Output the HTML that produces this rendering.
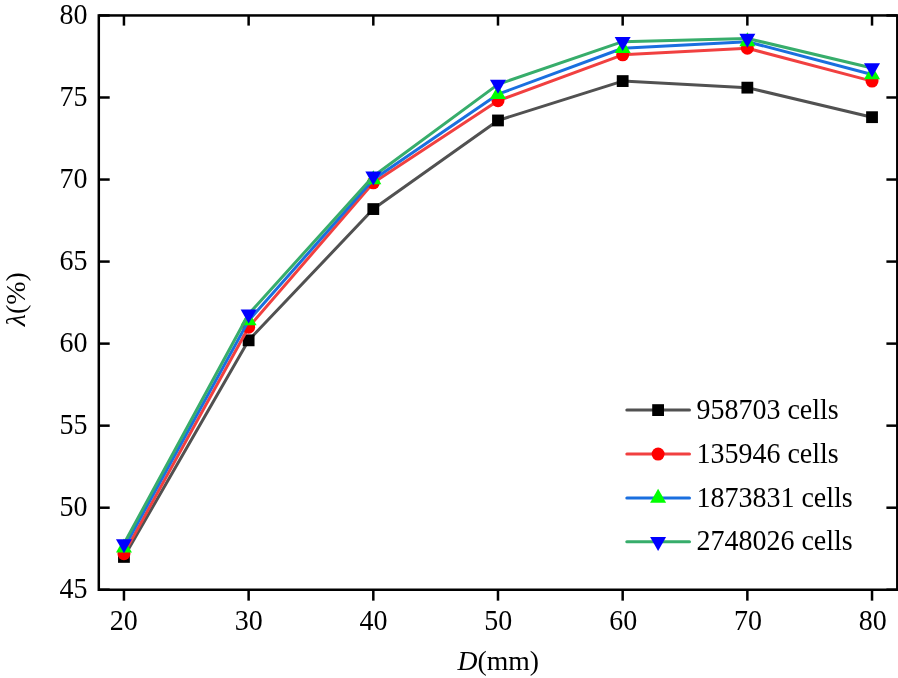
<!DOCTYPE html>
<html lang="en"><head><meta charset="utf-8"><title>Grid independence</title>
<style>html,body{margin:0;padding:0;background:#fff}body{width:898px;height:678px;overflow:hidden}svg{display:block}text{font-family:"Liberation Serif","Times New Roman",serif;font-size:28px;fill:#000}</style></head><body>
<svg width="898" height="678" viewBox="0 0 898 678">
<rect width="898" height="678" fill="#fff"/>
<polyline points="123.95,556.93 248.63,340.34 373.31,209.07 497.99,120.46 622.67,81.08 747.35,87.65 872.03,117.18" fill="none" stroke="#515151" stroke-width="3.0" stroke-linejoin="round" stroke-linecap="round"/>
<rect x="118.05" y="551.03" width="11.8" height="11.8" fill="#000000"/>
<rect x="242.73" y="334.44" width="11.8" height="11.8" fill="#000000"/>
<rect x="367.41" y="203.17" width="11.8" height="11.8" fill="#000000"/>
<rect x="492.09" y="114.56" width="11.8" height="11.8" fill="#000000"/>
<rect x="616.77" y="75.18" width="11.8" height="11.8" fill="#000000"/>
<rect x="741.45" y="81.75" width="11.8" height="11.8" fill="#000000"/>
<rect x="866.13" y="111.28" width="11.8" height="11.8" fill="#000000"/>
<polyline points="123.95,553.65 248.63,327.21 373.31,182.82 497.99,100.77 622.67,54.83 747.35,48.27 872.03,81.08" fill="none" stroke="#F14040" stroke-width="3.0" stroke-linejoin="round" stroke-linecap="round"/>
<circle cx="123.95" cy="553.65" r="6.5" fill="#FF0000"/>
<circle cx="248.63" cy="327.21" r="6.5" fill="#FF0000"/>
<circle cx="373.31" cy="182.82" r="6.5" fill="#FF0000"/>
<circle cx="497.99" cy="100.77" r="6.5" fill="#FF0000"/>
<circle cx="622.67" cy="54.83" r="6.5" fill="#FF0000"/>
<circle cx="747.35" cy="48.27" r="6.5" fill="#FF0000"/>
<circle cx="872.03" cy="81.08" r="6.5" fill="#FF0000"/>
<polyline points="123.95,547.91 248.63,320.65 373.31,179.54 497.99,94.21 622.67,48.27 747.35,41.70 872.03,74.52" fill="none" stroke="#1A6FDF" stroke-width="3.0" stroke-linejoin="round" stroke-linecap="round"/>
<polygon points="115.95,552.57 131.95,552.57 123.95,538.57" fill="#00FF00"/>
<polygon points="240.63,325.32 256.63,325.32 248.63,311.32" fill="#00FF00"/>
<polygon points="365.31,184.20 381.31,184.20 373.31,170.20" fill="#00FF00"/>
<polygon points="489.99,98.88 505.99,98.88 497.99,84.88" fill="#00FF00"/>
<polygon points="614.67,52.93 630.67,52.93 622.67,38.93" fill="#00FF00"/>
<polygon points="739.35,46.37 755.35,46.37 747.35,32.37" fill="#00FF00"/>
<polygon points="864.03,79.19 880.03,79.19 872.03,65.19" fill="#00FF00"/>
<polyline points="123.95,543.81 248.63,314.09 373.31,176.25 497.99,84.37 622.67,41.70 747.35,38.42 872.03,67.96" fill="none" stroke="#37AD6B" stroke-width="3.0" stroke-linejoin="round" stroke-linecap="round"/>
<polygon points="115.95,539.14 131.95,539.14 123.95,553.14" fill="#0000FF"/>
<polygon points="240.63,309.42 256.63,309.42 248.63,323.42" fill="#0000FF"/>
<polygon points="365.31,171.59 381.31,171.59 373.31,185.59" fill="#0000FF"/>
<polygon points="489.99,79.70 505.99,79.70 497.99,93.70" fill="#0000FF"/>
<polygon points="614.67,37.04 630.67,37.04 622.67,51.04" fill="#0000FF"/>
<polygon points="739.35,33.76 755.35,33.76 747.35,47.76" fill="#0000FF"/>
<polygon points="864.03,63.29 880.03,63.29 872.03,77.29" fill="#0000FF"/>
<g stroke="#000" stroke-width="2.5" fill="none" stroke-linecap="butt" stroke-linejoin="miter">
<rect x="98.8" y="15.45" width="798.50" height="574.30"/>
<line x1="123.95" y1="589.75" x2="123.95" y2="600.65"/>
<line x1="123.95" y1="15.45" x2="123.95" y2="25.60"/>
<line x1="248.63" y1="589.75" x2="248.63" y2="600.65"/>
<line x1="248.63" y1="15.45" x2="248.63" y2="25.60"/>
<line x1="373.31" y1="589.75" x2="373.31" y2="600.65"/>
<line x1="373.31" y1="15.45" x2="373.31" y2="25.60"/>
<line x1="497.99" y1="589.75" x2="497.99" y2="600.65"/>
<line x1="497.99" y1="15.45" x2="497.99" y2="25.60"/>
<line x1="622.67" y1="589.75" x2="622.67" y2="600.65"/>
<line x1="622.67" y1="15.45" x2="622.67" y2="25.60"/>
<line x1="747.35" y1="589.75" x2="747.35" y2="600.65"/>
<line x1="747.35" y1="15.45" x2="747.35" y2="25.60"/>
<line x1="872.03" y1="589.75" x2="872.03" y2="600.65"/>
<line x1="872.03" y1="15.45" x2="872.03" y2="25.60"/>
<line x1="98.8" y1="589.75" x2="109.70" y2="589.75"/>
<line x1="897.3" y1="589.75" x2="886.40" y2="589.75"/>
<line x1="98.8" y1="507.71" x2="109.70" y2="507.71"/>
<line x1="897.3" y1="507.71" x2="886.40" y2="507.71"/>
<line x1="98.8" y1="425.66" x2="109.70" y2="425.66"/>
<line x1="897.3" y1="425.66" x2="886.40" y2="425.66"/>
<line x1="98.8" y1="343.62" x2="109.70" y2="343.62"/>
<line x1="897.3" y1="343.62" x2="886.40" y2="343.62"/>
<line x1="98.8" y1="261.58" x2="109.70" y2="261.58"/>
<line x1="897.3" y1="261.58" x2="886.40" y2="261.58"/>
<line x1="98.8" y1="179.54" x2="109.70" y2="179.54"/>
<line x1="897.3" y1="179.54" x2="886.40" y2="179.54"/>
<line x1="98.8" y1="97.49" x2="109.70" y2="97.49"/>
<line x1="897.3" y1="97.49" x2="886.40" y2="97.49"/>
<line x1="98.8" y1="15.45" x2="109.70" y2="15.45"/>
<line x1="897.3" y1="15.45" x2="886.40" y2="15.45"/>
</g>
<text transform="translate(123.85,629.50) scale(1,1.05)" text-anchor="middle">20</text>
<text transform="translate(248.68,629.50) scale(1,1.05)" text-anchor="middle">30</text>
<text transform="translate(373.51,629.50) scale(1,1.05)" text-anchor="middle">40</text>
<text transform="translate(498.34,629.50) scale(1,1.05)" text-anchor="middle">50</text>
<text transform="translate(623.17,629.50) scale(1,1.05)" text-anchor="middle">60</text>
<text transform="translate(748.00,629.50) scale(1,1.05)" text-anchor="middle">70</text>
<text transform="translate(872.83,629.50) scale(1,1.05)" text-anchor="middle">80</text>
<text transform="translate(87.40,597.95) scale(1,1.05)" text-anchor="end">45</text>
<text transform="translate(87.40,515.91) scale(1,1.05)" text-anchor="end">50</text>
<text transform="translate(87.40,433.86) scale(1,1.05)" text-anchor="end">55</text>
<text transform="translate(87.40,351.82) scale(1,1.05)" text-anchor="end">60</text>
<text transform="translate(87.40,269.78) scale(1,1.05)" text-anchor="end">65</text>
<text transform="translate(87.40,187.74) scale(1,1.05)" text-anchor="end">70</text>
<text transform="translate(87.40,105.69) scale(1,1.05)" text-anchor="end">75</text>
<text transform="translate(87.40,23.65) scale(1,1.05)" text-anchor="end">80</text>
<text transform="translate(498.20,669.70)" text-anchor="middle" style="font-size:27.7px"><tspan font-style="italic">D</tspan>(mm)</text>
<text transform="translate(24.80,299.20) rotate(-90)" text-anchor="middle"><tspan font-style="italic">λ</tspan>(%)</text>
<line x1="626.8" y1="410.1" x2="689.5" y2="410.1" stroke="#515151" stroke-width="3.0" stroke-linecap="round"/>
<rect x="652.20" y="404.20" width="11.8" height="11.8" fill="#000000"/>
<text transform="translate(696.50,419.30) scale(1,1.05)" text-anchor="start">958703 cells</text>
<line x1="626.8" y1="454.1" x2="689.5" y2="454.1" stroke="#F14040" stroke-width="3.0" stroke-linecap="round"/>
<circle cx="658.10" cy="454.10" r="6.5" fill="#FF0000"/>
<text transform="translate(696.50,463.00) scale(1,1.05)" text-anchor="start">135946 cells</text>
<line x1="626.8" y1="498.1" x2="689.5" y2="498.1" stroke="#1A6FDF" stroke-width="3.0" stroke-linecap="round"/>
<polygon points="650.10,502.77 666.10,502.77 658.10,488.77" fill="#00FF00"/>
<text transform="translate(696.50,506.80) scale(1,1.05)" text-anchor="start">1873831 cells</text>
<line x1="626.8" y1="541.7" x2="689.5" y2="541.7" stroke="#37AD6B" stroke-width="3.0" stroke-linecap="round"/>
<polygon points="650.10,537.03 666.10,537.03 658.10,551.03" fill="#0000FF"/>
<text transform="translate(696.50,550.20) scale(1,1.05)" text-anchor="start">2748026 cells</text>
</svg></body></html>
